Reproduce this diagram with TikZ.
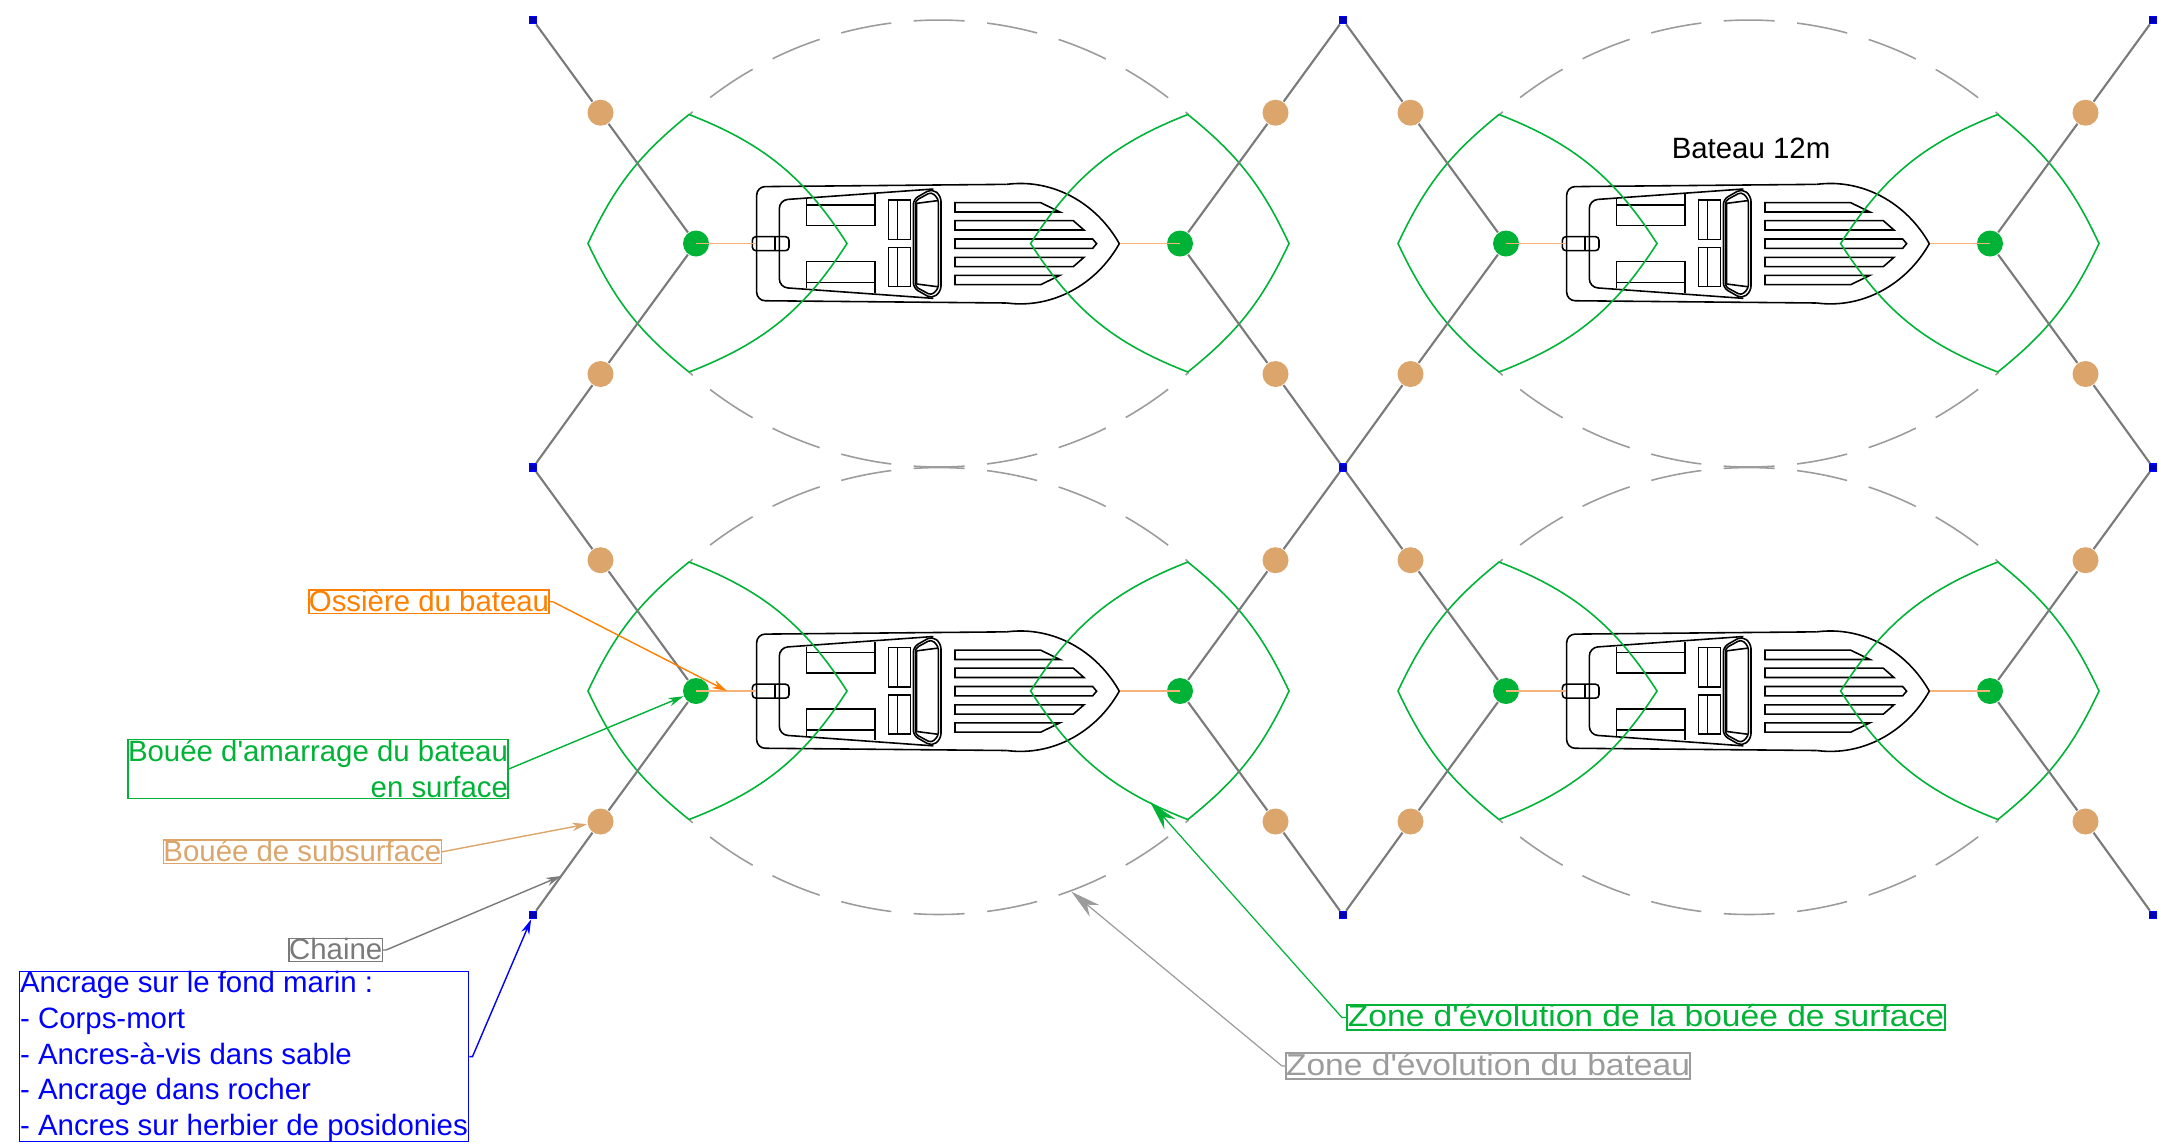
\documentclass[tikz,border=0pt]{standalone}
\usepackage{fontspec}
\usetikzlibrary{arrows.meta}
\newfontfamily\lblfont{Liberation Sans}
\newfontfamily\zonefont[FakeStretch=1.11]{Liberation Sans}
\definecolor{vertzone}{HTML}{00B336}
\definecolor{orangeoss}{HTML}{FF8000}
\definecolor{orangepale}{HTML}{F7B27A}
\definecolor{sable}{HTML}{DBA56C}
\definecolor{grischaine}{HTML}{7A7A7A}
\definecolor{giszone}{HTML}{9C9C9C}
\tikzset{
    buoysurf/.style={circle, fill=vertzone, minimum size=0.26cm, inner sep=0pt},
    buoysub/.style={circle, fill=sable, minimum size=0.26cm, inner sep=0pt},
    anchorpt/.style={rectangle, draw=blue, fill=blue!70!black, line width=0.5pt, minimum size=0.07cm, inner sep=0pt},
    chain/.style={grischaine, line width=0.6pt},
    hawser/.style={orangepale, line width=0.4pt},
    lens/.style={vertzone, line width=0.45pt},
    swing/.style={giszone, line width=0.45pt, dash pattern=on 0.51cm off 0.225cm, dash phase=0.467cm},
    lbl/.style={draw=#1, text=#1, inner sep=0pt, line width=0.4pt, font=\lblfont\fontsize{8.36}{10.13}\selectfont},
    lblzone/.style={draw=#1, text=#1, inner sep=0pt, line width=0.5pt, font=\zonefont\fontsize{8.6}{10.13}\selectfont, text height=6.2pt, text depth=1pt},
    tipS/.style={-{Stealth[length=0.15cm, width=0.085cm]}, line width=0.4pt},
    tipL/.style={-{Stealth[length=0.30cm, width=0.15cm]}, line width=0.35pt},
    pics/boat/.style={code={
        \begin{scope}[line width=0.45pt, black]
        \draw[rounded corners=2.4pt] (860,73) -- (110,80) -- (110,422) -- (860,429);
        \draw (860,73) .. controls (1000,55) and (1130,130) .. (1198,251) .. controls (1130,372) and (1000,447) .. (860,429);
        \draw[rounded corners=2.4pt] (640,87) -- (178,120) -- (178,382) -- (640,415);
        \draw[fill=white, rounded corners=1.5pt] (580,118) -- (636,86) -- (663,108) -- (663,394) -- (636,416) -- (580,384) -- cycle;
        \draw[rounded corners=1pt] (586,122) -- (634,96) -- (655,116) -- (655,386) -- (634,406) -- (586,380) -- cycle;
        \draw (590,130) -- (652,122) (590,372) -- (652,380) (590,130) -- (590,372);
        \draw (260,117) -- (260,197) -- (465,197) -- (465,103) (260,135) -- (465,135);
        \draw (260,385) -- (260,305) -- (465,305) -- (465,398) (260,367) -- (465,367);
        \draw (505,120) rectangle (572,238) (533,120) -- (533,238);
        \draw (505,263) rectangle (572,380) (533,263) -- (533,380);
        \draw (705,128) -- (962,128) -- (1020,156) -- (705,156) -- cycle;
        \draw (705,182) -- (1060,182) -- (1092,210) -- (705,210) -- cycle;
        \draw (705,237) -- (1118,237) -- (1130,251) -- (1118,265) -- (705,265) -- cycle;
        \draw (705,292) -- (1092,292) -- (1060,320) -- (705,320) -- cycle;
        \draw (705,346) -- (1020,346) -- (962,374) -- (705,374) -- cycle;
        \draw[rounded corners=1pt] (97,230) rectangle (207,272);
        \draw (165,230) -- (165,272);
        \end{scope}
    }},
}
\begin{document}
\begin{tikzpicture}[x=0.01cm, y=-0.01cm]
\useasboundingbox (0,0) rectangle (2161,1147);

\foreach \i in {0,1,2}
    \foreach \j in {0,1,2}
        \node[anchorpt] (anc\i\j) at (533+810*\i,20+447.5*\j) {};

\foreach \i in {0,1}
    \foreach \j in {0,1} {
        \begin{scope}[shift={(810*\i,447.5*\j)}]
        \draw[swing] (939,396.6) ++(-131.5:376.6) arc (-131.5:-48.5:376.6);
        \draw[swing] (939,90.4) ++(131.5:376.6) arc (131.5:48.5:376.6);
        \pic[scale=0.3333] at (720,160) {boat};
        \node[buoysurf] (surfL\i\j) at (696,243.5) {};
        \node[buoysurf] (surfR\i\j) at (1180,243.5) {};
        \node[buoysub] (subLT\i\j) at (600.5,112.7) {};
        \node[buoysub] (subLB\i\j) at (600.5,374) {};
        \node[buoysub] (subRT\i\j) at (1275.5,112.7) {};
        \node[buoysub] (subRB\i\j) at (1275.5,374) {};
        \coordinate (stern\i\j) at (756,243.5);
        \coordinate (bow\i\j) at (1119.5,243.5);
        \draw[lens] (588,243.5) to[bend left=13] (689,114.5) to[bend left=18] (847,243.5) to[bend left=18] (689,372) to[bend left=13] cycle;
        \draw[lens] (1030.6,243.5) to[bend left=18] (1187.8,114.5) to[bend left=13] (1289,243.5) to[bend left=13] (1187.8,372) to[bend left=18] cycle;
        \draw[hawser] (surfL\i\j.center) -- (stern\i\j);
        \draw[hawser] (bow\i\j) -- (surfR\i\j.center);
        \end{scope}
    }

\draw[chain] (anc00) -- (subLT00) -- (surfL00) -- (subLB00) -- (anc01);
\draw[chain] (anc01) -- (subLT01) -- (surfL01) -- (subLB01) -- (anc02);
\draw[chain] (anc10) -- (subRT00) -- (surfR00) -- (subRB00) -- (anc11);
\draw[chain] (anc11) -- (subRT01) -- (surfR01) -- (subRB01) -- (anc12);
\draw[chain] (anc10) -- (subLT10) -- (surfL10) -- (subLB10) -- (anc11);
\draw[chain] (anc11) -- (subLT11) -- (surfL11) -- (subLB11) -- (anc12);
\draw[chain] (anc20) -- (subRT10) -- (surfR10) -- (subRB10) -- (anc21);
\draw[chain] (anc21) -- (subRT11) -- (surfR11) -- (subRB11) -- (anc22);

\node[font=\lblfont\fontsize{8.36}{10.13}\selectfont] (lblBateau) at (1751,148) {Bateau 12m};

\node[lbl=orangeoss, minimum width=2.40cm, text height=6.06pt, text depth=0.63pt] (lblOssiere) at (429,601.7) {Ossière du bateau};
\node[lbl=vertzone, minimum width=3.79cm, minimum height=0.588cm, align=right] (lblAmarrage) at (318,769) {Bouée d'amarrage du bateau\\en surface};
\node[lbl=sable, minimum width=2.772cm, text height=6.06pt, text depth=0.63pt] (lblSub) at (302.4,851.8) {Bouée de subsurface};
\node[lbl=grischaine, minimum width=0.926cm, text height=6.06pt, text depth=0.63pt] (lblChaine) at (335.7,950) {Chaine};
\node[lbl=blue, minimum width=4.493cm, minimum height=1.696cm, align=left] (lblAncrage) at (244,1056.6) {Ancrage sur le fond marin :\\- Corps-mort\\- Ancres-à-vis dans sable\\- Ancrage dans rocher\\- Ancres sur herbier de posidonies};
\node[lblzone=vertzone, minimum width=5.98cm] (lblZoneBouee) at (1646,1017.5) {Zone d'évolution de la bouée de surface};
\node[lblzone=giszone, minimum width=4.04cm] (lblZoneBateau) at (1488,1066) {Zone d'évolution du bateau};

\coordinate (ptOssiere) at (727,691);
\coordinate (ptChaine) at (561,876);
\coordinate (ptZoneBouee) at (1150,801.7);
\coordinate (ptZoneBateau) at (1071.4,891.7);

\draw[tipS, orangeoss] (lblOssiere.east) -- ++(3,0) -- (ptOssiere);
\draw[tipS, vertzone] (lblAmarrage.east) -- (surfL01);
\draw[tipS, sable] (lblSub.east) -- (subLB01);
\draw[tipS, grischaine] (lblChaine.east) -- ++(3,0) -- (ptChaine);
\draw[tipS, blue] (lblAncrage.east) -- ++(3,0) -- (anc02);
\draw[tipL, vertzone] (lblZoneBouee.west) -- ++(-4,0) -- (ptZoneBouee);
\draw[tipL, giszone] (lblZoneBateau.west) -- ++(-3,0) -- (ptZoneBateau);
\end{tikzpicture}
\end{document}
